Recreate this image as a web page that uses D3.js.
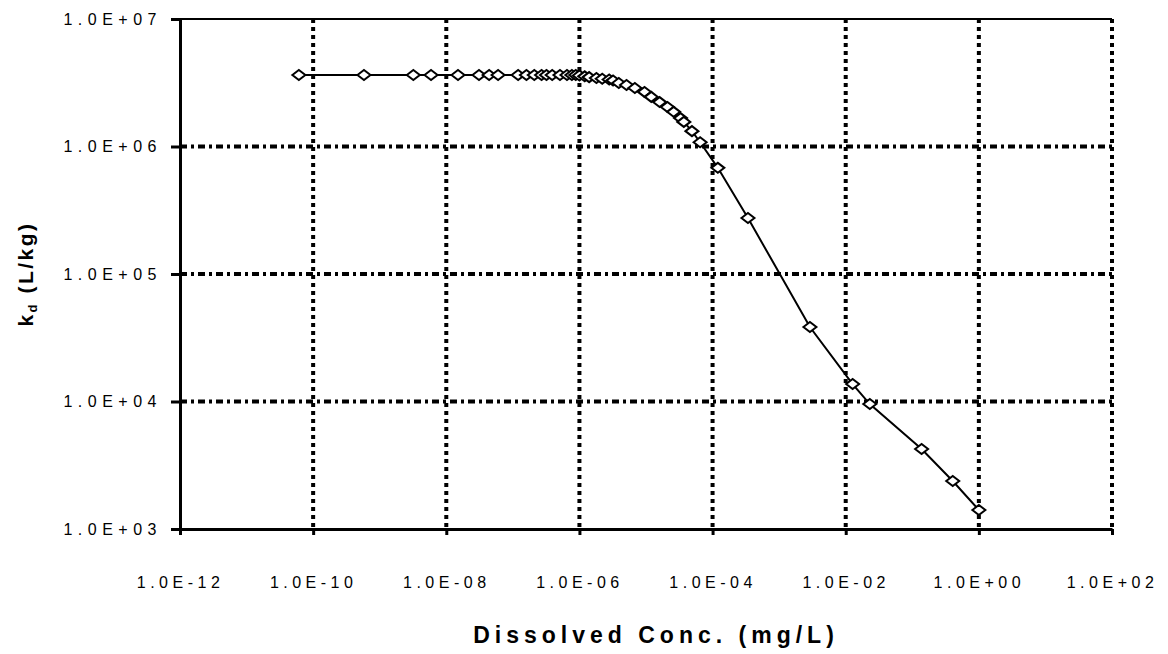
<!DOCTYPE html>
<html>
<head>
<meta charset="utf-8">
<script src="https://cdn.jsdelivr.net/npm/d3@7"></script>
<style>
  body { margin: 0; background: #fff; }
  svg { display: block; }
</style>
</head>
<body>
<div id="chart"></div>
<script>
// Tick values and labels
const xTickValues = [1e-12, 1e-10, 1e-8, 1e-6, 1e-4, 1e-2, 1e0, 1e2];
const xTickLabels = ['1.0E-12', '1.0E-10', '1.0E-08', '1.0E-06', '1.0E-04', '1.0E-02', '1.0E+00', '1.0E+02'];
const yTickValues = [1e3, 1e4, 1e5, 1e6, 1e7];
const yTickLabels = ['1.0E+03', '1.0E+04', '1.0E+05', '1.0E+06', '1.0E+07'];

// Dissolved concentration (mg/L)
const concValues = [
    6.1e-11, 5.8e-10, 3.2e-9, 5.9e-9, 1.5e-8, 3.1e-8, 4.4e-8, 6.0e-8,
    1.2e-7, 1.6e-7, 2.1e-7, 2.7e-7, 3.2e-7, 3.9e-7, 5.1e-7, 6.5e-7, 7.7e-7, 8.8e-7,
    1.0e-6, 1.2e-6, 1.4e-6, 1.8e-6, 2.2e-6, 2.8e-6, 3.2e-6, 3.9e-6, 5.1e-6, 6.8e-6, 9.5e-6,
    1.2e-5, 1.6e-5, 2.1e-5, 2.6e-5, 3.3e-5, 3.7e-5, 4.9e-5, 6.5e-5,
    1.2e-4, 3.4e-4, 2.9e-3, 1.27e-2, 2.3e-2, 0.138, 0.405, 1.0
];
// kd (L/kg)
const kdValues = [
    3.64e6, 3.64e6, 3.64e6, 3.64e6, 3.64e6, 3.64e6, 3.64e6, 3.64e6,
    3.64e6, 3.64e6, 3.64e6, 3.64e6, 3.64e6, 3.64e6, 3.64e6, 3.64e6, 3.64e6, 3.64e6,
    3.6e6, 3.55e6, 3.5e6, 3.45e6, 3.4e6, 3.35e6, 3.3e6, 3.15e6, 3.04e6, 2.88e6, 2.68e6,
    2.45e6, 2.23e6, 2.04e6, 1.87e6, 1.67e6, 1.56e6, 1.32e6, 1.08e6,
    6.8e5, 2.75e5, 3.84e4, 1.37e4, 9.55e3, 4.24e3, 2.38e3, 1.41e3
];

const data = concValues.map((c, i) => ({ conc: c, kd: kdValues[i] }));

const width = 1168;
const height = 654;
const plot = { left: 180, right: 1112, top: 19, bottom: 529 };
const font = 'Arial, "Liberation Sans", sans-serif';

const svg = d3.select('#chart')
    .append('svg')
    .attr('width', width)
    .attr('height', height);

const xScale = d3.scaleLog()
    .domain([1e-12, 1e2])
    .range([plot.left, plot.right]);

const yScale = d3.scaleLog()
    .domain([1e3, 1e7])
    .range([plot.bottom, plot.top]);

// Horizontal gridlines (dash-dot)
svg.append('g')
    .selectAll('line')
    .data(yTickValues.filter(v => v > 1e3 && v < 1e7))
    .enter()
    .append('line')
    .attr('x1', plot.left)
    .attr('x2', plot.right)
    .attr('y1', d => yScale(d))
    .attr('y2', d => yScale(d))
    .attr('stroke', '#000')
    .attr('stroke-width', 4)
    .attr('stroke-dasharray', '7,4,3,4');

// Vertical gridlines (dotted)
svg.append('g')
    .selectAll('line')
    .data(xTickValues.filter(v => v > 1e-12))
    .enter()
    .append('line')
    .attr('x1', d => xScale(d))
    .attr('x2', d => xScale(d))
    .attr('y1', plot.top)
    .attr('y2', plot.bottom)
    .attr('stroke', '#000')
    .attr('stroke-width', 4)
    .attr('stroke-dasharray', '4,4');

// Top border
svg.append('line')
    .attr('x1', plot.left)
    .attr('x2', plot.right)
    .attr('y1', plot.top)
    .attr('y2', plot.top)
    .attr('stroke', '#000')
    .attr('stroke-width', 2);

// X axis
const xAxis = svg.append('g')
    .attr('transform', `translate(0,${plot.bottom})`)
    .call(d3.axisBottom(xScale)
        .tickValues(xTickValues)
        .tickFormat((d, i) => xTickLabels[i])
        .tickSize(6)
        .tickSizeOuter(0));

xAxis.select('.domain').attr('stroke-width', 3);
xAxis.selectAll('.tick line').attr('stroke-width', 3);
xAxis.selectAll('.tick text')
    .attr('y', 59)
    .attr('dy', 0)
    .style('font-family', font)
    .style('font-size', '16px')
    .style('letter-spacing', '4.5px')
    .attr('fill', '#000');

// Y axis
const yAxis = svg.append('g')
    .attr('transform', `translate(${plot.left},0)`)
    .call(d3.axisLeft(yScale)
        .tickValues(yTickValues)
        .tickFormat((d, i) => yTickLabels[i])
        .tickSize(9)
        .tickSizeOuter(0));

yAxis.select('.domain').attr('stroke-width', 3);
yAxis.selectAll('.tick line').attr('stroke-width', 3);
yAxis.selectAll('.tick text')
    .attr('x', -18)
    .style('font-family', font)
    .style('font-size', '16px')
    .style('letter-spacing', '5.5px')
    .attr('fill', '#000');

// Series line
const line = d3.line()
    .x(d => xScale(d.conc))
    .y(d => yScale(d.kd));

svg.append('path')
    .datum(data)
    .attr('d', line)
    .attr('fill', 'none')
    .attr('stroke', '#000')
    .attr('stroke-width', 2);

// Diamond markers
const diamond = 'M-6.5,0L0,-5L6.5,0L0,5Z';
svg.append('g')
    .selectAll('path')
    .data(data)
    .enter()
    .append('path')
    .attr('transform', d => `translate(${xScale(d.conc)},${yScale(d.kd)})`)
    .attr('d', diamond)
    .attr('fill', '#fff')
    .attr('stroke', '#000')
    .attr('stroke-width', 2);

// X axis title
svg.append('text')
    .attr('x', 656)
    .attr('y', 643)
    .attr('text-anchor', 'middle')
    .style('font-family', font)
    .style('font-size', '23px')
    .style('font-weight', 'bold')
    .style('letter-spacing', '5px')
    .text('Dissolved Conc. (mg/L)');

// Y axis title with subscript
const yTitle = svg.append('text')
    .attr('transform', `translate(33,${(plot.top + plot.bottom) / 2}) rotate(-90)`)
    .attr('text-anchor', 'middle')
    .style('font-family', font)
    .style('font-size', '21px')
    .style('font-weight', 'bold')
    .style('letter-spacing', '2.5px');

yTitle.append('tspan').text('k');
yTitle.append('tspan').style('font-size', '13px').attr('dy', 4).text('d');
yTitle.append('tspan').attr('dy', -4).text(' (L/kg)');
</script>
</body>
</html>
